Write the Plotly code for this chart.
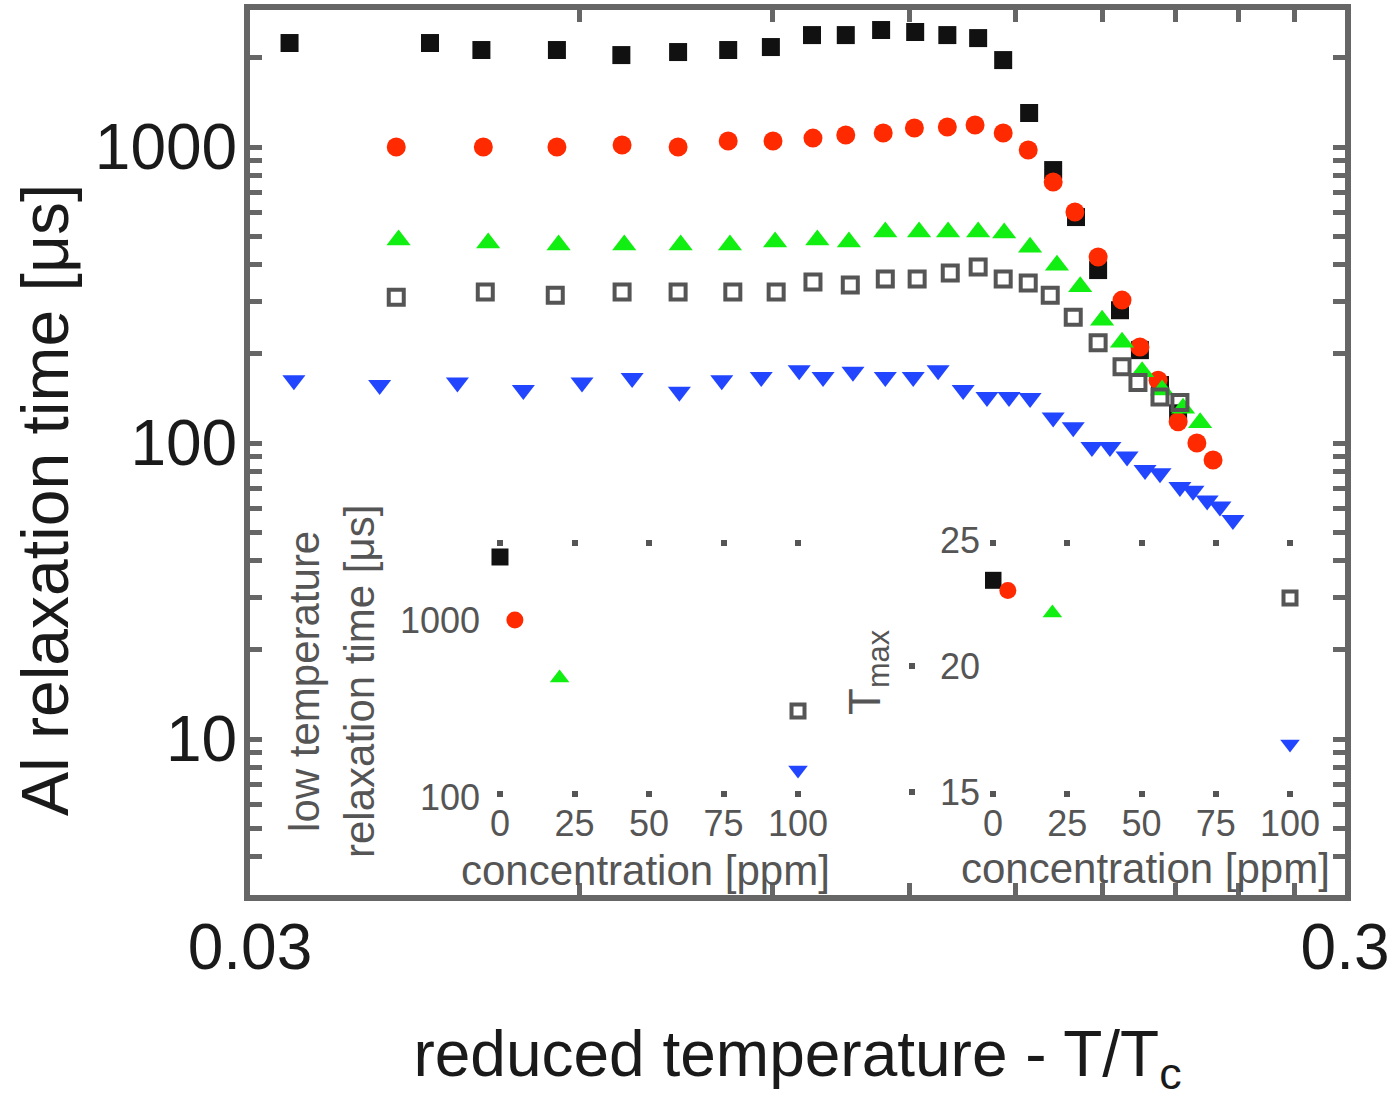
import plotly.graph_objects as go

# ---------------- main data (reduced temperature T/Tc vs relaxation time, us) -------------
black_x = [0.0326, 0.0438, 0.0488, 0.0572, 0.0655, 0.0738, 0.0820, 0.0897, 0.0978, 0.1050,
           0.1131, 0.1215, 0.1300, 0.1387, 0.1462, 0.1544, 0.1624, 0.1704, 0.1785, 0.1869,
           0.1949, 0.2033, 0.2112]
black_y = [2246, 2246, 2127, 2127, 2045, 2094, 2127, 2177, 2389, 2389,
           2485, 2447, 2389, 2334, 1967, 1303, 836, 580, 384, 281,
           206, 157, 126]

red_x = [0.0408, 0.0490, 0.0572, 0.0656, 0.0738, 0.0820, 0.0901, 0.0980, 0.1050, 0.1136,
         0.1213, 0.1300, 0.1378, 0.1462, 0.1541, 0.1624, 0.1700, 0.1785, 0.1877, 0.1949,
         0.2025, 0.2112, 0.2197, 0.2273]
red_y = [1000, 1000, 1000, 1016, 1000, 1048, 1048, 1072, 1098, 1115,
         1159, 1168, 1187, 1115, 977, 762, 603, 425, 304, 211,
         163, 118, 100, 87.6]

green_x = [0.0410, 0.0495, 0.0574, 0.0659, 0.0742, 0.0823, 0.0905, 0.0989, 0.1057, 0.1141,
           0.1225, 0.1302, 0.1387, 0.1465, 0.1547, 0.1637, 0.1719, 0.1800, 0.1877, 0.1958,
           0.2042, 0.2134, 0.2212]
green_y = [485, 474, 467, 467, 467, 467, 478, 485, 478, 516,
           516, 516, 516, 512, 459, 399, 337, 260, 219, 174,
           151, 131, 117]

gray_x = [0.0408, 0.0492, 0.0570, 0.0656, 0.0738, 0.0828, 0.0907, 0.0980, 0.1060, 0.1141,
          0.1220, 0.1308, 0.1387, 0.1462, 0.1541, 0.1614, 0.1694, 0.1785, 0.1877, 0.1941,
          0.2033, 0.2120]
gray_y = [311, 324, 316, 324, 324, 324, 324, 350, 342, 358,
          358, 375, 393, 358, 347, 316, 266, 218, 181, 160,
          143, 137]

blue_x = [0.0329, 0.0394, 0.0464, 0.0533, 0.0603, 0.0670, 0.0740, 0.0809, 0.0879, 0.0952,
          0.1001, 0.1066, 0.1141, 0.1210, 0.1275, 0.1344, 0.1413, 0.1480, 0.1547, 0.1624,
          0.1694, 0.1762, 0.1830, 0.1897, 0.1970, 0.2033, 0.2120, 0.2179, 0.2245, 0.2306,
          0.2370]
blue_y = [163, 157, 160, 151, 160, 166, 149, 163, 167, 176,
          167, 174, 167, 167, 176, 151, 143, 143, 142, 122,
          113, 97, 97, 90, 81, 79, 71, 69, 64, 61,
          55]

# ---------------- inset data (concentration in ppm) ----------------
conc = [0, 5, 20, 100, 100]                    # black, red, green, gray, blue
low_t_relax = [2270, 1000, 470, 306, 142]      # us
t_max = [23.4, 23.0, 22.1, 22.7, 16.9]

main_x_ticks = [0.03, 0.06, 0.09, 0.12, 0.15, 0.18, 0.21, 0.24, 0.27, 0.30]
main_x_labels = ["0.03", "", "", "", "", "", "", "", "", "0.3"]
main_y_ticks = [4, 5, 6, 7, 8, 9, 10, 20, 30, 40, 50, 60, 70, 80, 90,
                100, 200, 300, 400, 500, 600, 700, 800, 900, 1000, 2000, 3000]
main_y_labels = ["10" if v == 10 else "100" if v == 100 else "1000" if v == 1000 else ""
                 for v in main_y_ticks]
conc_ticks = [0, 25, 50, 75, 100]
inset1_y_ticks = [100, 1000]
inset2_y_ticks = [15, 20, 25]

C_BLACK = "#111111"
C_RED = "#ff2a00"
C_GREEN = "#11ee11"
C_GRAY = "#555555"
C_BLUE = "#2246ff"
FONT = "Liberation Sans, Arial, sans-serif"

colors = [C_BLACK, C_RED, C_GREEN, C_GRAY, C_BLUE]
symbols = ["square", "circle", "triangle-up", "square-open", "triangle-down"]

fig = go.Figure()

series = [
    (black_x, black_y, C_BLACK, "square", 18),
    (red_x, red_y, C_RED, "circle", 19),
    (green_x, green_y, C_GREEN, "triangle-up", 21),
    (gray_x, gray_y, C_GRAY, "square-open", 15),
    (blue_x, blue_y, C_BLUE, "triangle-down", 20),
]
for xs, ys, col, sym, sz in series:
    mk = dict(color=col, symbol=sym, size=sz)
    if sym.endswith("open"):
        mk["line"] = dict(color=col, width=4)
    else:
        mk["line"] = dict(width=0)
    fig.add_trace(go.Scatter(x=xs, y=ys, mode="markers", marker=mk,
                             xaxis="x", yaxis="y", showlegend=False))

# inset traces
for i in range(len(conc)):
    mk = dict(color=colors[i], symbol=symbols[i], size=17)
    if symbols[i].endswith("open"):
        mk["line"] = dict(color=colors[i], width=4)
        mk["size"] = 13
    else:
        mk["line"] = dict(width=0)
    fig.add_trace(go.Scatter(x=[conc[i]], y=[low_t_relax[i]], mode="markers", marker=mk,
                             xaxis="x2", yaxis="y2", showlegend=False))
    fig.add_trace(go.Scatter(x=[conc[i]], y=[t_max[i]], mode="markers", marker=mk,
                             xaxis="x3", yaxis="y3", showlegend=False))

# invisible carrier so that the tick-only overlay axis of the right inset is drawn
fig.add_trace(go.Scatter(x=conc, y=t_max, mode="markers", marker=dict(opacity=0),
                         xaxis="x3", yaxis="y4", showlegend=False, hoverinfo="skip"))

AX = "#666666"
W, H = 1395, 1098
L, R, T, B = 250, 50, 10, 203
PW, PH = W - L - R, H - T - B


def px_x(p):
    return (p - L) / PW


def px_y(p):
    return (H - B - p) / PH


inset_tick = dict(ticks="inside", ticklen=6, tickwidth=6, tickcolor=C_GRAY,
                  showgrid=False, zeroline=False, showline=False, automargin=False,
                  tickfont=dict(family=FONT, size=36, color=C_GRAY))

fig.update_layout(
    width=W, height=H,
    margin=dict(l=L, r=R, t=T, b=B, pad=0, autoexpand=False),
    paper_bgcolor="white", plot_bgcolor="white",
    xaxis=dict(type="log", range=[-1.5229, -0.5229], automargin=False,
               tickvals=main_x_ticks, ticktext=main_x_labels,
               ticks="inside", ticklen=12, tickwidth=5, tickcolor=AX,
               showline=True, linewidth=6, linecolor=AX, mirror="ticks",
               showgrid=False, zeroline=False,
               tickfont=dict(family=FONT, size=64, color="#1a1a1a"),
               ticklabelstandoff=-9,
               title=dict(text="reduced temperature - T/T<sub>c</sub>",
                          font=dict(family=FONT, size=64, color="#1a1a1a"),
                          standoff=62)),
    yaxis=dict(type="log", range=[0.473, 3.463], automargin=False,
               tickvals=main_y_ticks, ticktext=main_y_labels,
               ticks="inside", ticklen=12, tickwidth=5, tickcolor=AX,
               showline=True, linewidth=6, linecolor=AX, mirror="ticks",
               showgrid=False, zeroline=False,
               tickfont=dict(family=FONT, size=64, color="#1a1a1a"),
               ticklabelstandoff=-6),
    xaxis2=dict(domain=[px_x(485), px_x(815)], range=[-5.03, 105.7], anchor="y2",
                tickvals=conc_ticks, mirror="ticks", ticklabelstandoff=2, **inset_tick),
    yaxis2=dict(domain=[px_y(797), px_y(540)], type="log", range=[2, 3.452], anchor="x2",
                tickvals=inset1_y_ticks, ticktext=["100", "1000"], automargin=False,
                ticks="", showgrid=False, zeroline=False, showline=False,
                tickfont=dict(family=FONT, size=36, color=C_GRAY), ticklabelstandoff=4),
    xaxis3=dict(domain=[px_x(985), px_x(1320)], range=[-2.69, 110.1], anchor="y3",
                tickvals=conc_ticks, mirror="ticks", ticklabelstandoff=2, **inset_tick),
    yaxis3=dict(domain=[px_y(797), px_y(540)], range=[14.8, 25.0], anchor="x3",
                tickvals=inset2_y_ticks, ticks="", showgrid=False, zeroline=False,
                showline=False, automargin=False,
                tickfont=dict(family=FONT, size=36, color=C_GRAY),
                ticklabelstandoff=4),
    yaxis4=dict(overlaying="y3", anchor="free", position=px_x(908), side="left",
                range=[14.8, 25.0], tickvals=inset2_y_ticks, showticklabels=False,
                ticks="inside", ticklen=6, tickwidth=6, tickcolor=C_GRAY, automargin=False,
                showgrid=False, zeroline=False, showline=False),
)

fig.add_annotation(text="Al relaxation time [μs]", xref="paper", yref="paper",
                   x=px_x(45), y=px_y(500), showarrow=False, textangle=-90,
                   font=dict(family=FONT, size=66, color="#1a1a1a"),
                   xanchor="center", yanchor="middle")

ann_font = dict(family=FONT, size=42, color=C_GRAY)
fig.add_annotation(text="concentration [ppm]", xref="paper", yref="paper",
                   x=px_x(645), y=px_y(870), showarrow=False, font=ann_font,
                   xanchor="center", yanchor="middle")
fig.add_annotation(text="concentration [ppm]", xref="paper", yref="paper",
                   x=px_x(1145), y=px_y(868), showarrow=False, font=ann_font,
                   xanchor="center", yanchor="middle")
fig.add_annotation(text="low temperature<br>relaxation time [μs]", xref="paper", yref="paper",
                   x=px_x(332), y=px_y(682), showarrow=False, textangle=-90,
                   font=dict(family=FONT, size=42, color=C_GRAY),
                   xanchor="center", yanchor="middle")
fig.add_annotation(text="T<sub>max</sub>", xref="paper", yref="paper",
                   x=px_x(868), y=px_y(672), showarrow=False, textangle=-90,
                   font=dict(family=FONT, size=44, color=C_GRAY),
                   xanchor="center", yanchor="middle")

fig.write_html("out.html")
